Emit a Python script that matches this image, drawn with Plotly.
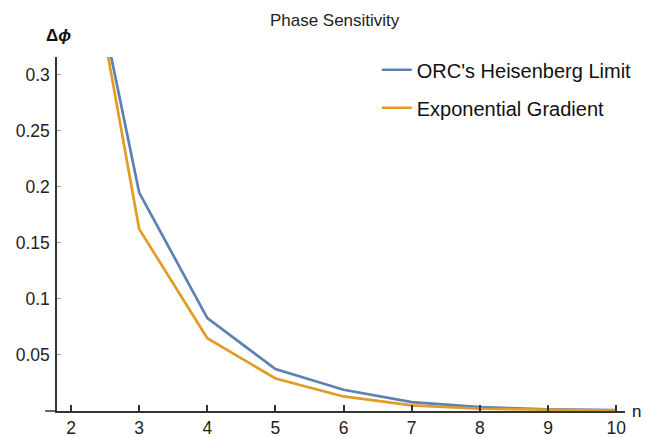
import plotly.graph_objects as go

n_values = [2, 3, 4, 5, 6, 7, 8, 9, 10]
heisenberg = [0.49, 0.195, 0.083, 0.0375, 0.019, 0.008, 0.0035, 0.0015, 0.0007]
exp_gradient = [0.50, 0.1625, 0.065, 0.029, 0.013, 0.005, 0.002, 0.0009, 0.0004]
x_ticks = [2, 3, 4, 5, 6, 7, 8, 9, 10]
y_ticks = [0.05, 0.1, 0.15, 0.2, 0.25, 0.3]
y_tick_text = ["0.05", "0.1", "0.15", "0.2", "0.25", "0.3"]

BLUE = "#5E81B5"
ORANGE = "#E19C24"
FONT = "Liberation Sans, Arial, sans-serif"

fig = go.Figure()
fig.add_trace(go.Scatter(x=n_values, y=heisenberg, mode="lines",
                         name="ORC's Heisenberg Limit", legendgroup="a",
                         line=dict(color=BLUE, width=2.7)))
fig.add_trace(go.Scatter(x=n_values, y=exp_gradient, mode="lines",
                         name="Exponential Gradient", legendgroup="b",
                         line=dict(color=ORANGE, width=2.7)))

fig.update_layout(
    width=646, height=437,
    margin=dict(l=57, r=21, t=57, b=26, autoexpand=False),
    paper_bgcolor="white", plot_bgcolor="white",
    font=dict(family=FONT, color="#222", size=17),
    title=dict(text="Phase Sensitivity", x=0.518, xanchor="center", y=0.954, yanchor="middle",
               font=dict(size=17, color="#222", family=FONT)),
    showlegend=True,
    legend=dict(x=0.563, y=1.019, xanchor="left", yanchor="top",
                bgcolor="rgba(0,0,0,0)", tracegroupgap=9,
                font=dict(size=20, color="#111", family=FONT)),
    xaxis=dict(range=[1.794, 10.13], tickvals=x_ticks, ticks="inside", ticklen=6,
               tickwidth=1.5, tickcolor="#333", showline=True, linecolor="#333", linewidth=1.5,
               showgrid=False, zeroline=False, automargin=False,
               tickfont=dict(size=17.5, color="#222")),
    yaxis=dict(range=[0, 0.316], tickvals=y_ticks, ticktext=y_tick_text, ticks="inside",
               ticklen=4, tickwidth=1, tickcolor="#999", showline=True, linecolor="#333",
               linewidth=1.5, showgrid=False, zeroline=False, ticklabelstandoff=2,
               automargin=False, tickfont=dict(size=17.5, color="#222")),
)

fig.add_shape(type="line", xref="paper", yref="paper", x0=-0.021, x1=0, y0=0, y1=0,
              line=dict(color="#333", width=1.5))

fig.add_annotation(text="<b>Δ<i>ϕ</i></b>", xref="paper", yref="paper",
                   x=0.002, y=1.062, xanchor="center", yanchor="middle", showarrow=False,
                   font=dict(size=17, color="#111", family=FONT))
fig.add_annotation(text="n", xref="paper", yref="paper",
                   x=1.009, y=0.0, xanchor="left", yanchor="middle", showarrow=False,
                   font=dict(size=17, color="#111", family=FONT))

fig.write_html("out.html", config={"displayModeBar": False},
               post_script="document.body.style.margin='0px';document.body.style.overflow='hidden';")
